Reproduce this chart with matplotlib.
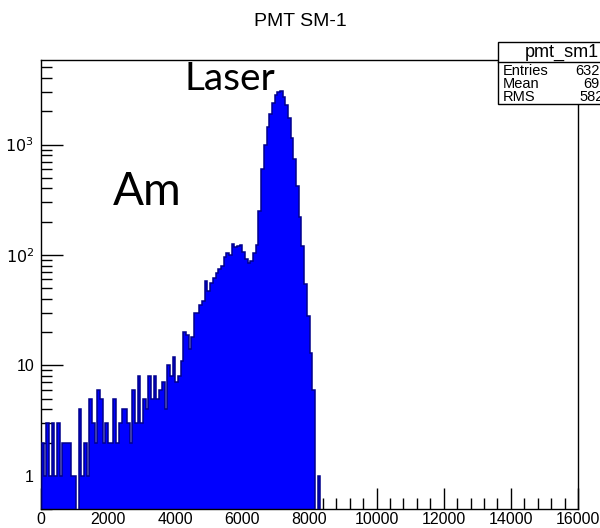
import numpy as np
import matplotlib
matplotlib.use("Agg")
import matplotlib.pyplot as plt
from matplotlib.ticker import FixedLocator, NullFormatter, FixedFormatter
from matplotlib.patches import Rectangle
from matplotlib.lines import Line2D

# ---- data ----
bin_width = 80
counts = [
    # 0 - 3520 (k=0..43)
    2, 1, 3, 1, 3, 1, 3, 1, 2, 2, 2, 1, 1, 0, 4, 1, 2, 1, 5, 3,
    2, 6, 5, 2, 3, 2, 2, 5, 2, 3, 4, 4, 3, 2, 6, 3, 8, 3, 5, 4,
    8, 5, 8, 5,
    # 3520 - 4640 (k=44..57)
    6, 7, 4, 10, 8, 12, 7, 8, 11, 20, 19, 14, 18, 30,
    # Am region (k=58..80)
    30, 35, 38, 58, 47, 56, 62, 69, 74, 80, 95, 104, 100, 125, 119, 121,
    123, 107, 92, 85, 88, 104, 123,
    # Laser peak (k=81..103)
    250, 600, 1000, 1450, 1900, 2400, 2800, 3000, 3050, 2700, 2300, 1750,
    1150, 740, 420, 220, 120, 55, 28, 13, 6, 0, 1,
]
n_bins_total = 200
x_range = (0, 16000)

title = "PMT SM-1"
stats_name = "pmt_sm1"
stats_labels = ["Entries", "Mean", "RMS"]
stats_values = ["63253", "6925", "582.9"]
annotations = [("Laser", 5630, 3950, 28), ("Am", 3160, 370, 33)]

y_major = [1, 10, 100, 1000]
y_major_labels = ["1", "10", r"$10^{2}$", r"$10^{3}$"]
x_major = list(range(0, 16001, 2000))

# ---- figure ----
W, H = 600, 528
fig = plt.figure(figsize=(W / 100, H / 100), dpi=100)
L, R, T, B = 41, 578, 60, 509
ax = fig.add_axes([L / W, 1 - B / H, (R - L) / W, (B - T) / H])

c = np.zeros(n_bins_total)
c[:len(counts)] = counts
edges = np.arange(n_bins_total + 1) * bin_width
draw = np.where(c > 0, c, 1e-3)
ax.stairs(draw, edges, fill=True, color="#0000ff", baseline=1e-3, zorder=2)
ax.stairs(draw, edges, fill=False, color="#00008c", baseline=1e-3, lw=1.1, zorder=3)

ax.set_yscale("log")
ax.set_xlim(*x_range)
ax.set_ylim(0.5, 5830)

ax.xaxis.set_major_locator(FixedLocator(x_major))
ax.xaxis.set_minor_locator(FixedLocator(np.arange(0, 16001, 400)))
ax.set_xticklabels([str(v) for v in x_major])
ax.yaxis.set_major_locator(FixedLocator(y_major))
ax.yaxis.set_major_formatter(FixedFormatter(y_major_labels))
minors = []
for d in [0.1, 1, 10, 100, 1000]:
    for m in range(2, 10):
        minors.append(m * d)
ax.yaxis.set_minor_locator(FixedLocator(minors))
ax.yaxis.set_minor_formatter(NullFormatter())

ax.tick_params(which="both", direction="in", top=False, right=False, width=1.0, color="black")
ax.tick_params(axis="x", which="major", length=15, pad=2, labelsize=11.5)
ax.tick_params(axis="x", which="minor", length=8)
ax.tick_params(axis="y", which="major", length=16, pad=5, labelsize=11.5)
ax.tick_params(axis="y", which="minor", length=8)
for lab in ax.get_xticklabels() + ax.get_yticklabels():
    lab.set_family("Liberation Sans")
for s in ax.spines.values():
    s.set_linewidth(1.0)

fig.text(300 / W, 1 - 22 / H, title, ha="center", va="center",
         fontsize=14, family="Liberation Sans")

for txt, xv, yv, fs in annotations:
    ax.text(xv, yv, txt, ha="center", va="center", fontsize=fs, family="Lato", zorder=5)

# stats box (partly cut off by the right edge, as in the reference)
bx0, by0, by1 = 498, 42, 104
fig.patches.append(Rectangle((bx0 / W, 1 - by1 / H), (W + 10 - bx0) / W, (by1 - by0) / H,
                             transform=fig.transFigure, facecolor="white",
                             edgecolor="black", lw=1.0, zorder=10))
fig.lines.append(Line2D([bx0 / W, 1.0], [1 - 62 / H, 1 - 62 / H],
                        transform=fig.transFigure, color="black", lw=1.0, zorder=11))
fig.text(525 / W, 1 - 52 / H, stats_name, ha="left", va="center",
         fontsize=13, family="Liberation Sans", zorder=12)
rows_y = [71, 84, 97]
for lab, val, yy in zip(stats_labels, stats_values, rows_y):
    fig.text(503 / W, 1 - yy / H, lab, ha="left", va="center",
             fontsize=10.5, family="Liberation Sans", zorder=12)
    fig.text(616 / W, 1 - yy / H, val, ha="right", va="center",
             fontsize=10.5, family="Liberation Sans", zorder=12)

fig.savefig("out.png", dpi=100)
